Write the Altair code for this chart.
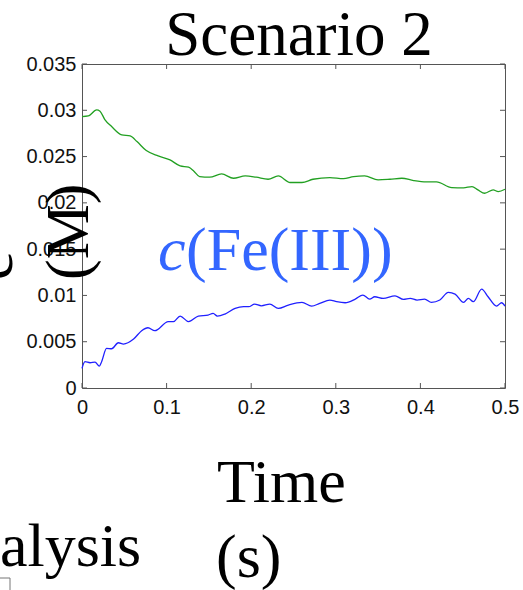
import altair as alt
import pandas as pd

# ---- data ----
green_t = [0.0, 0.0075, 0.0173, 0.0213, 0.027, 0.035, 0.047, 0.057, 0.065, 0.076, 0.090, 0.104,
           0.116, 0.126, 0.132, 0.139, 0.151, 0.165, 0.179, 0.193, 0.206, 0.220, 0.232, 0.246,
           0.260, 0.273, 0.293, 0.309, 0.321, 0.334, 0.350, 0.364, 0.378, 0.392, 0.407, 0.419,
           0.437, 0.451, 0.461, 0.468, 0.476, 0.486, 0.492, 0.500]
green_c = [0.02932, 0.02939, 0.03004, 0.0299, 0.0290, 0.02824, 0.02734, 0.02723, 0.02662, 0.02565,
           0.02507, 0.02464, 0.02399, 0.02385, 0.02345, 0.02284, 0.02277, 0.02313, 0.02266, 0.02291,
           0.02277, 0.02255, 0.02291, 0.0222, 0.0222, 0.02255, 0.02273, 0.02262, 0.02284, 0.02291,
           0.02248, 0.02255, 0.02266, 0.02241, 0.02227, 0.02227, 0.02165, 0.02162, 0.02176, 0.0214,
           0.02104, 0.0214, 0.02122, 0.02147]

blue_t = [0.0, 0.0035, 0.0095, 0.0154, 0.0205, 0.0232, 0.029, 0.035, 0.043, 0.049, 0.061, 0.0705,
          0.078, 0.086, 0.102, 0.108, 0.116, 0.126, 0.1375, 0.149, 0.155, 0.160, 0.169, 0.181,
          0.191, 0.197, 0.204, 0.212, 0.222, 0.232, 0.244, 0.260, 0.2715, 0.281, 0.293, 0.301,
          0.311, 0.323, 0.332, 0.340, 0.346, 0.356, 0.370, 0.380, 0.388, 0.396, 0.405, 0.413,
          0.423, 0.433, 0.441, 0.451, 0.4567, 0.4625, 0.4724, 0.480, 0.490, 0.496, 0.500]
blue_c = [0.00212, 0.00284, 0.00273, 0.0028, 0.00237, 0.00284, 0.00428, 0.00424, 0.00489, 0.00475,
          0.00529, 0.00619, 0.00651, 0.00619, 0.00716, 0.00716, 0.00777, 0.00716, 0.00777, 0.00788,
          0.00806, 0.00777, 0.00799, 0.0086, 0.00878, 0.00878, 0.00906, 0.00888, 0.00906, 0.0086,
          0.00896, 0.00924, 0.00885, 0.00914, 0.0095, 0.00932, 0.00921, 0.0096, 0.01004, 0.0096,
          0.00986, 0.00968, 0.00996, 0.00957, 0.00968, 0.0095, 0.0096, 0.00924, 0.0095, 0.01032,
          0.01014, 0.00924, 0.00968, 0.00932, 0.01068, 0.00986, 0.00885, 0.00921, 0.00885]

x_ticks = [0, 0.1, 0.2, 0.3, 0.4, 0.5]
y_ticks = [0, 0.005, 0.01, 0.015, 0.02, 0.025, 0.03, 0.035]

W, H = 423, 324
SERIF = "Liberation Serif"
SANS = "Liberation Sans"
BIG = 62

green = pd.DataFrame({"t": green_t, "c": green_c})
blue = pd.DataFrame({"t": blue_t, "c": blue_c})
xt = pd.DataFrame({"t": x_ticks})
yt = pd.DataFrame({"c": y_ticks})

xs = alt.Scale(domain=[0, 0.5], nice=False, zero=False)
ys = alt.Scale(domain=[0, 0.035], nice=False)

xaxis = alt.Axis(values=x_ticks, format=".1~f", title=None, ticks=False, domain=False,
                 grid=False, labelFont=SANS, labelFontSize=20, labelColor="#111111",
                 labelPadding=9, labelFlush=False)
yaxis = alt.Axis(values=y_ticks, format=".3~f", title=None, ticks=False, domain=False,
                 grid=False, labelFont=SANS, labelFontSize=20, labelColor="#111111",
                 labelPadding=6, labelFlush=False)

g_line = alt.Chart(green).mark_line(color="#22a022", strokeWidth=1.3, interpolate="monotone").encode(
    x=alt.X("t:Q", scale=xs, axis=xaxis),
    y=alt.Y("c:Q", scale=ys, axis=yaxis),
)
b_line = alt.Chart(blue).mark_line(color="#2020ff", strokeWidth=1.3, interpolate="monotone").encode(
    x=alt.X("t:Q", scale=xs),
    y=alt.Y("c:Q", scale=ys),
)

TK = 5
tick_color = "#555555"
left_ticks = alt.Chart(yt).mark_rule(color=tick_color, strokeWidth=1).encode(
    y=alt.Y("c:Q", scale=ys), x=alt.value(0), x2=alt.value(TK))
right_ticks = alt.Chart(yt).mark_rule(color=tick_color, strokeWidth=1).encode(
    y=alt.Y("c:Q", scale=ys), x=alt.value(W - TK), x2=alt.value(W))
bottom_ticks = alt.Chart(xt).mark_rule(color=tick_color, strokeWidth=1).encode(
    x=alt.X("t:Q", scale=xs), y=alt.value(H), y2=alt.value(H - TK))
top_ticks = alt.Chart(xt).mark_rule(color=tick_color, strokeWidth=1).encode(
    x=alt.X("t:Q", scale=xs), y=alt.value(0), y2=alt.value(TK))

def txt(text, x, y, size=BIG, color="black", align="left", angle=0, style="normal"):
    kw = dict(text=text, font=SERIF, fontSize=size, color=color, align=align,
              baseline="alphabetic", fontStyle=style)
    if angle:
        kw["angle"] = angle
    return alt.Chart(pd.DataFrame({"k": [0]})).mark_text(**kw).encode(
        x=alt.value(x), y=alt.value(y))

title = txt("Scenario 2", 217, -9, size=63, align="center")
fe_c = txt("c", 76, 206, color="#3366ff", style="italic")
fe_rest = txt("(Fe(III))", 104, 206, color="#3366ff")
time1 = txt("Time", 135, 438)
time2 = txt("(s)", 134, 513)
alysis = txt("alysis", -82, 502)
ylab1 = txt("c", -70, 216, angle=270)
ylab2 = txt("(M)", 6, 216, angle=270)

corner_h = alt.Chart(pd.DataFrame({"k": [0]})).mark_rule(color="#777777", strokeWidth=1).encode(
    x=alt.value(-82), x2=alt.value(-72), y=alt.value(514))
corner_v = alt.Chart(pd.DataFrame({"k": [0]})).mark_rule(color="#777777", strokeWidth=1).encode(
    x=alt.value(-72), y=alt.value(514), y2=alt.value(530))

chart = alt.layer(
    g_line, b_line, left_ticks, right_ticks, bottom_ticks, top_ticks,
    title, fe_c, fe_rest, time1, time2, alysis, ylab1, ylab2, corner_h, corner_v,
).properties(
    width=W, height=H,
    padding={"left": 82, "top": 64, "right": 18, "bottom": 202},
    autosize=alt.AutoSizeParams(type="none"),
    background="white",
).configure_view(
    stroke="#555555", strokeWidth=1
)

chart.save("out.html", embed_options={"renderer": "svg", "actions": False})
